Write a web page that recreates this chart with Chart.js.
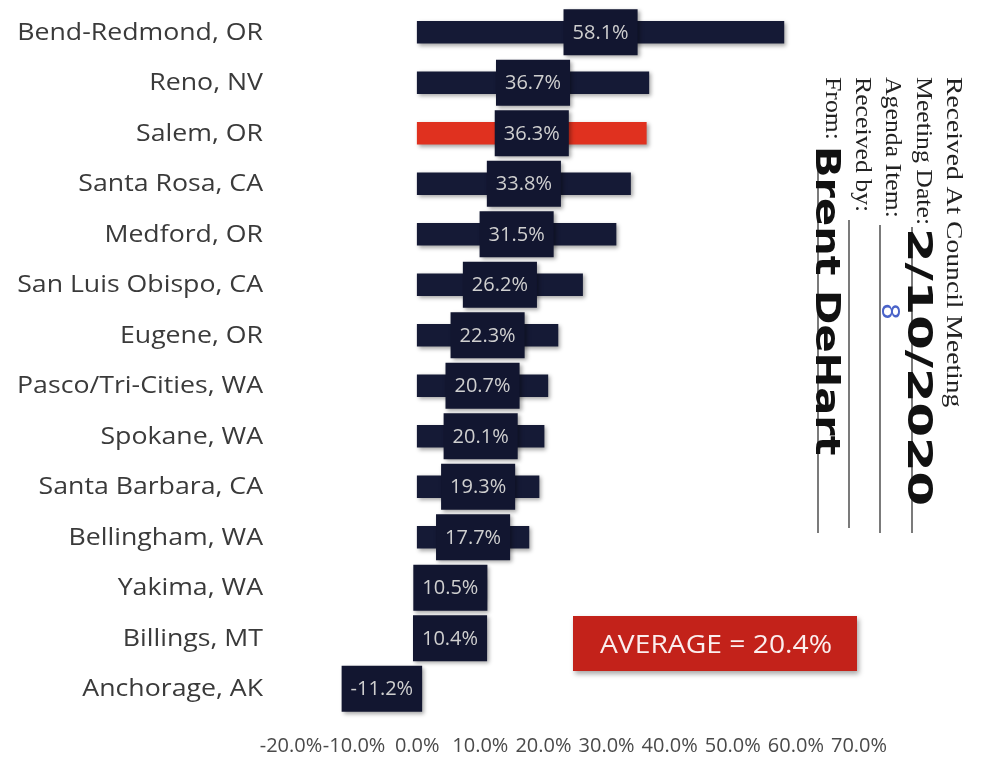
<!DOCTYPE html>
<html>
<head>
<meta charset="utf-8">
<script src="https://cdn.jsdelivr.net/npm/chart.js@4.4.1/dist/chart.umd.min.js"></script>
<style>
  html, body { margin: 0; padding: 0; background: #fff; }
</style>
</head>
<body>
<canvas id="chart" width="988" height="757"></canvas>
<script>
// Metro areas and their change (%)
const cities = [
  "Bend-Redmond, OR", "Reno, NV", "Salem, OR", "Santa Rosa, CA", "Medford, OR",
  "San Luis Obispo, CA", "Eugene, OR", "Pasco/Tri-Cities, WA", "Spokane, WA",
  "Santa Barbara, CA", "Bellingham, WA", "Yakima, WA", "Billings, MT", "Anchorage, AK"
];
const changes = [58.1, 36.7, 36.3, 33.8, 31.5, 26.2, 22.3, 20.7, 20.1, 19.3, 17.7, 10.5, 10.4, -11.2];
const highlightCity = "Salem, OR";
const averageChange = 20.4;
const xTicks = [-20, -10, 0, 10, 20, 30, 40, 50, 60, 70];

// Stamp text from the scanned page
const stampLines = ["Received At Council Meeting", "Meeting Date:", "Agenda Item:", "Received by:", "From:"];
const stampFilled = { date: "2/10/2020", item: "8", from: "Brent DeHart" };

const NAVY = "#151a36";
const RED = "#e0311f";
const UI_FONT = "'Open Sans', 'Noto Sans', sans-serif";

const pct = (v) => v.toFixed(1) + "%";

// soft shadow under the bars
const barShadow = {
  id: "barShadow",
  beforeDatasetsDraw(chart) {
    const ctx = chart.ctx;
    ctx.save();
    ctx.shadowColor = "rgba(0,0,0,0.35)";
    ctx.shadowBlur = 4;
    ctx.shadowOffsetX = 2;
    ctx.shadowOffsetY = 2;
  },
  afterDatasetsDraw(chart) {
    chart.ctx.restore();
  },
};

// city names, a bit wider than the plain font
const cityLabels = {
  id: "cityLabels",
  afterDraw(chart) {
    const ctx = chart.ctx;
    const yScale = chart.scales.y;
    ctx.save();
    ctx.fillStyle = "#3a3a3a";
    ctx.font = "23px " + UI_FONT;
    ctx.textAlign = "right";
    ctx.textBaseline = "middle";
    cities.forEach((c, i) => {
      ctx.save();
      ctx.translate(263, yScale.getPixelForTick(i) + 1);
      ctx.scale(1.16, 1);
      ctx.fillText(c, 0, 0);
      ctx.restore();
    });
    ctx.restore();
  },
};

// dark value boxes centred on each bar
const valueBoxes = {
  id: "valueBoxes",
  afterDatasetsDraw(chart) {
    const ctx = chart.ctx;
    const meta = chart.getDatasetMeta(0);
    ctx.save();
    ctx.font = "20px " + UI_FONT;
    meta.data.forEach((bar, i) => {
      const label = pct(changes[i]);
      const cx = (bar.x + bar.base) / 2;
      const w = ctx.measureText(label).width + 18;
      const h = 46;
      ctx.save();
      ctx.shadowColor = "rgba(0,0,0,0.35)";
      ctx.shadowBlur = 4;
      ctx.shadowOffsetX = 2;
      ctx.shadowOffsetY = 2;
      ctx.fillStyle = "#121630";
      ctx.fillRect(cx - w / 2, bar.y - h / 2, w, h);
      ctx.restore();
      ctx.fillStyle = "#cfcfcf";
      ctx.textAlign = "center";
      ctx.textBaseline = "middle";
      ctx.fillText(label, cx, bar.y + 1);
    });
    ctx.restore();
  },
};

// red "AVERAGE" call-out box
const averageBox = {
  id: "averageBox",
  afterDraw(chart) {
    const ctx = chart.ctx;
    const x = 573, y = 616, w = 284, h = 55;
    ctx.save();
    ctx.shadowColor = "rgba(0,0,0,0.35)";
    ctx.shadowBlur = 5;
    ctx.shadowOffsetX = 2;
    ctx.shadowOffsetY = 3;
    ctx.fillStyle = "#c3221a";
    ctx.fillRect(x, y, w, h);
    ctx.restore();
    ctx.save();
    ctx.fillStyle = "#fbeeee";
    ctx.font = "25px " + UI_FONT;
    ctx.textAlign = "center";
    ctx.textBaseline = "middle";
    ctx.translate(x + w / 2 + 1, y + h / 2 + 2);
    ctx.scale(1.13, 1);
    ctx.fillText("AVERAGE = " + pct(averageChange), 0, 0);
    ctx.restore();
  },
};

// council meeting stamp, written sideways on the right
const stamp = {
  id: "stamp",
  afterDraw(chart) {
    const ctx = chart.ctx;
    const cols = [953, 923, 892, 862, 832];
    const startY = 77;
    ctx.save();
    ctx.fillStyle = "#222";
    ctx.strokeStyle = "#333";
    ctx.lineWidth = 1.3;
    ctx.font = "23px 'Liberation Serif', 'DejaVu Serif', serif";
    ctx.textBaseline = "middle";
    stampLines.forEach((t, i) => {
      ctx.save();
      ctx.translate(cols[i], startY);
      ctx.rotate(Math.PI / 2);
      ctx.scale(i === 0 ? 1.2 : 1.12, 1);
      ctx.textAlign = "left";
      ctx.fillText(t, 0, 0);
      ctx.restore();
    });
    // underlines
    const lines = [[912, 227, 533], [880, 225, 533], [849, 220, 528], [818, 150, 533]];
    lines.forEach(([x, y0, y1]) => {
      ctx.beginPath();
      ctx.moveTo(x, y0);
      ctx.lineTo(x, y1);
      ctx.stroke();
    });
    // handwriting
    const hand = (text, x, y, size, color, stretch, weight) => {
      ctx.save();
      ctx.translate(x, y);
      ctx.rotate(Math.PI / 2);
      ctx.scale(stretch, 1);
      ctx.fillStyle = color;
      ctx.font = weight + " " + size + "px 'DejaVu Sans', sans-serif";
      ctx.textAlign = "left";
      ctx.textBaseline = "middle";
      ctx.fillText(text, 0, 0);
      ctx.restore();
    };
    hand(stampFilled.date, 917, 228, 34, "#111", 1.46, "bold");
    hand(stampFilled.item, 888, 303, 24, "#4a63c9", 1.1, "normal");
    hand(stampFilled.from, 825, 146, 34, "#111", 1.22, "bold");
    ctx.restore();
  },
};

new Chart(document.getElementById("chart"), {
  type: "bar",
  data: {
    labels: cities,
    datasets: [
      {
        data: changes,
        backgroundColor: cities.map((c) => (c === highlightCity ? RED : NAVY)),
        borderWidth: 0,
        barThickness: 22,
      },
    ],
  },
  options: {
    indexAxis: "y",
    responsive: false,
    animation: false,
    layout: { padding: { top: 7, right: 129, bottom: 0, left: 0 } },
    plugins: {
      legend: { display: false },
      tooltip: { enabled: false },
    },
    scales: {
      x: {
        min: xTicks[0],
        max: xTicks[xTicks.length - 1],
        afterBuildTicks: (scale) => {
          scale.ticks = xTicks.map((v) => ({ value: v }));
        },
        afterFit: (scale) => {
          scale.height = 43;
        },
        grid: { display: false, drawTicks: false },
        border: { display: false },
        ticks: {
          autoSkip: false,
          maxRotation: 0,
          padding: 20,
          color: "#4a4a4a",
          font: { family: UI_FONT, size: 20 },
          callback: (v) => pct(v),
        },
      },
      y: {
        afterFit: (scale) => {
          scale.width = 291;
        },
        grid: { display: false, drawTicks: false },
        border: { display: false },
        ticks: { display: false },
      },
    },
  },
  plugins: [barShadow, valueBoxes, cityLabels, averageBox, stamp],
});
</script>
</body>
</html>
